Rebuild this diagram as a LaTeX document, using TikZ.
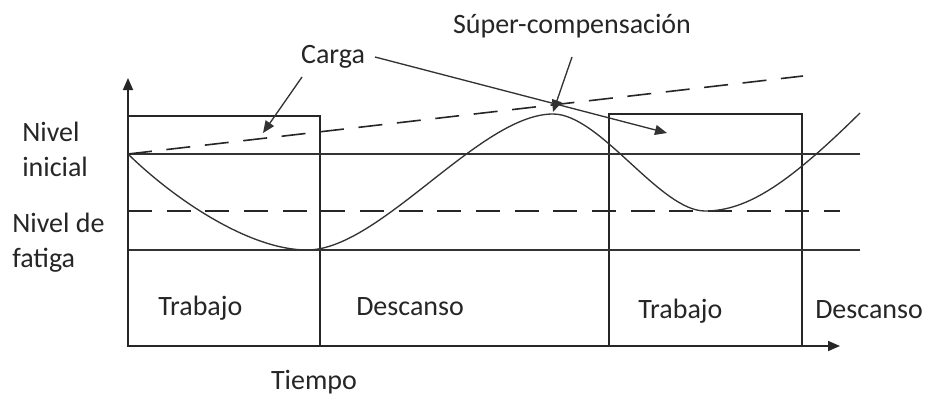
\documentclass[tikz,border=0pt]{standalone}
\usepackage{fontspec}
\setmainfont{Carlito}
\usetikzlibrary{arrows.meta}
\begin{document}
\begin{tikzpicture}[x=0.75pt,y=-0.75pt,
  line/.style={line width=1.2pt,black!85},
  thin line/.style={line width=1pt,black!80},
  dashline/.style={line width=1.2pt,black!85,dash pattern=on 18 off 11},
  tip/.style={-{Triangle[length=9pt,width=7.5pt]}},
  lbl/.style={inner sep=0pt,font=\fontsize{21}{25}\selectfont,text=black!85}]
\useasboundingbox[fill=white] (0,0) rectangle (927,396);
% coordinates
\coordinate (O) at (128,346);
\coordinate (ytop) at (128,78);
\coordinate (xend) at (840,346);
\coordinate (i0) at (128,154);
\coordinate (i1) at (860,154);
\coordinate (f0) at (128,211);
\coordinate (f1) at (840,211);
\coordinate (b0) at (128,250);
\coordinate (b1) at (860,250);
\coordinate (c1) at (803,76);
\coordinate (m1) at (307,250);
\coordinate (pk) at (553,114);
\coordinate (m2) at (705,211);
\coordinate (cend) at (860,113);
% boxes
\draw[line] (128,116) rectangle (320,346);
\draw[line] (609,114) rectangle (802,346);
% horizontal levels
\draw[thin line] (i0) -- (i1);
\draw[thin line] (b0) -- (b1);
\draw[dashline] (f0) -- (f1);
\draw[dashline] (i0) -- (c1);
% axes
\draw[line,tip] (O) -- (ytop);
\draw[line,tip] (O) -- (xend);
% curve
\draw[thin line] (i0) .. controls (175,200) and (250,250) .. (m1)
  .. controls (380,250) and (480,114) .. (pk)
  .. controls (600,114) and (660,211) .. (m2)
  .. controls (748,211) and (790,182) .. (cend);
% labels
\node[lbl,anchor=base west] (nv1) at (22,141) {Nivel};
\node[lbl,anchor=base west] (nv2) at (22,176) {inicial};
\node[lbl,anchor=base west] (nf1) at (12,232) {Nivel de};
\node[lbl,anchor=base west] (nf2) at (12,267) {fatiga};
\node[lbl,anchor=base west] (t1) at (158,315) {Trabajo};
\node[lbl,anchor=base west] (d1) at (356,315) {Descanso};
\node[lbl,anchor=base west] (t2) at (638,318) {Trabajo};
\node[lbl,anchor=base west] (d2) at (815,318) {Descanso};
\node[lbl,anchor=base] (tp) at (314,389) {Tiempo};
\node[lbl,anchor=base] (cg) at (333,63) {Carga};
\node[lbl,anchor=base] (sc) at (572,33) {Súper-compensación};
% annotation arrows
\coordinate (a1s) at (302,77);
\coordinate (a1e) at (263,133);
\coordinate (a2s) at (375,57);
\coordinate (a2e) at (667,133);
\coordinate (a3s) at (572,57);
\coordinate (a3e) at (553,112);
\draw[thin line,tip] (a1s) -- (a1e);
\draw[thin line,tip] (a2s) -- (a2e);
\draw[thin line,tip] (a3s) -- (a3e);
\end{tikzpicture}
\end{document}
